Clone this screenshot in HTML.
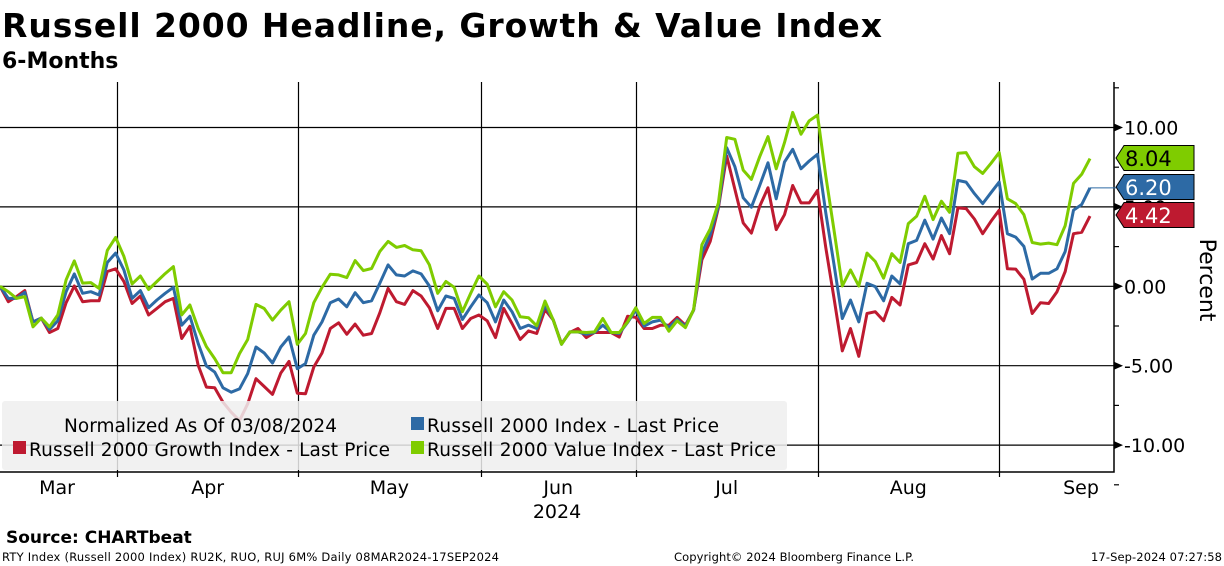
<!DOCTYPE html>
<html><head><meta charset="utf-8"><style>
html,body{margin:0;padding:0;background:#fff;}
svg{display:block;font-family:"DejaVu Sans","Liberation Sans",sans-serif;}
</style></head><body>
<svg id="chart" width="1224" height="566" viewBox="0 0 1224 566">
<text x="2" y="37" font-size="33" font-weight="bold" textLength="880">Russell 2000 Headline, Growth &amp; Value Index</text>
<text x="2" y="68" font-size="22" font-weight="bold">6-Months</text>
<g id="grid"></g>
<g id="series"></g>
<g id="legend">
<rect x="2" y="401" width="785" height="69" fill="#efefef" fill-opacity="0.85" rx="3"/>
<text x="64" y="432" font-size="18.5" textLength="273" fill="#000">Normalized As Of 03/08/2024</text>
<rect x="411" y="417" width="13" height="13" fill="#2d6aa5"/>
<text x="427" y="432" font-size="18.5" textLength="292">Russell 2000 Index - Last Price</text>
<rect x="13" y="441" width="13" height="13" fill="#be1a30"/>
<text x="29" y="456" font-size="18.5" textLength="361">Russell 2000 Growth Index - Last Price</text>
<rect x="411" y="441" width="13" height="13" fill="#7fcc00"/>
<text x="427" y="456" font-size="18.5" textLength="349">Russell 2000 Value Index - Last Price</text>
</g>
<g id="axes"></g>
<text transform="translate(1200,280) rotate(90)" text-anchor="middle" font-size="22">Percent</text>
<text x="6" y="543" font-size="17" font-weight="bold">Source: CHARTbeat</text>
<text x="2" y="561" font-size="11.5" textLength="497">RTY Index (Russell 2000 Index) RU2K, RUO, RUJ 6M%  Daily 08MAR2024-17SEP2024</text>
<text x="674" y="561" font-size="11.5" textLength="240">Copyright© 2024 Bloomberg Finance L.P.</text>
<text x="1091" y="561" font-size="11.5" textLength="131">17-Sep-2024 07:27:58</text>
</svg>
<script>
const valueSeries = [0,-0.34,-0.76,-0.65,-2.55,-2.0,-2.55,-1.8,0.4,1.6,0.2,0.23,-0.13,2.26,3.08,1.88,0.15,0.65,-0.2,0.3,0.8,1.24,-1.8,-1.18,-2.66,-3.8,-4.55,-5.44,-5.44,-4.24,-3.35,-1.14,-1.4,-2.13,-1.5,-0.97,-3.65,-2.97,-1.03,-0.06,0.76,0.72,0.55,1.62,0.99,1.12,2.19,2.83,2.45,
2.57,2.3,2.24,1.35,-0.44,0.3,-0.06,-1.6,-0.44,0.65,0.13,-1.29,-0.34,-0.86,-1.92,-1.98,-2.49,-0.93,-2.13,-3.65,-2.87,-2.87,-2.91,-2.87,-2.03,-2.91,-2.91,-2.24,-1.35,-2.34,-1.96,-1.96,-2.83,-2.17,-2.6,-1.46,2.62,3.61,5.25,9.37,9.26,7.32,6.73,8.16,9.43,7.4,
9.05,10.95,9.58,10.42,10.78,6.94,3.54,0.02,1.03,0.02,2.09,1.56,0.51,2.05,1.5,3.95,4.41,5.67,4.2,5.36,4.66,8.38,8.42,7.53,7.11,7.74,8.42,5.51,5.21,4.51,2.76,2.66,2.72,2.62,3.82,6.48,7.05,8.04];
const headlineSeries = [0,-0.76,-0.76,-0.38,-2.24,-2.0,-2.72,-2.17,-0.34,0.78,-0.44,-0.34,-0.55,1.5,2.09,1.03,-0.76,-0.27,-1.35,-0.86,-0.44,-0.06,-2.45,-1.88,-3.6,-5.02,-5.4,-6.39,-6.67,-6.46,-5.5,-3.82,-4.2,-4.83,-3.82,-3.19,-5.19,-4.87,-3.08,-2.24,-1.03,-0.8,-1.29,-0.4,-1.03,-0.91,0.19,1.35,0.72,
0.65,0.97,0.78,0.02,-1.54,-0.61,-0.76,-2.09,-1.29,-0.55,-1.03,-2.24,-0.86,-1.6,-2.66,-2.45,-2.66,-1.18,-2.13,-3.65,-2.87,-2.87,-3.02,-2.91,-2.45,-2.91,-2.97,-2.28,-1.5,-2.51,-2.24,-2.13,-2.6,-2.09,-2.51,-1.5,2.09,3.25,5.04,8.73,7.53,5.57,4.98,6.35,7.78,5.51,
7.83,8.63,7.4,7.89,8.31,4.62,1.37,-2.03,-0.86,-2.24,0.19,-0.02,-0.91,0.65,0.15,2.68,2.89,4.16,2.97,4.3,3.31,6.67,6.56,5.84,5.21,5.89,6.56,3.31,3.1,2.51,0.46,0.82,0.82,1.1,2.19,4.79,5.15,6.2];
const growthSeries = [0,-0.97,-0.65,-0.27,-2.24,-2.0,-2.91,-2.66,-1.03,0.02,-0.97,-0.91,-0.91,0.93,1.1,0.3,-1.08,-0.61,-1.81,-1.39,-0.97,-0.76,-3.29,-2.51,-4.98,-6.35,-6.39,-7.3,-7.93,-8.46,-7.4,-5.82,-6.31,-6.81,-5.46,-4.73,-6.73,-6.77,-5.08,-4.2,-2.66,-2.3,-3.02,-2.38,-3.08,-2.97,-1.67,-0.13,-0.97,
-1.14,-0.27,-0.61,-1.35,-2.66,-1.39,-1.39,-2.66,-2.03,-1.81,-2.17,-3.23,-1.39,-2.34,-3.35,-2.81,-2.97,-1.46,-2.13,-3.61,-2.91,-2.66,-3.23,-2.91,-2.91,-2.91,-3.19,-1.88,-1.96,-2.66,-2.66,-2.45,-2.45,-1.96,-2.45,-1.5,1.67,2.83,4.94,8.21,6.1,3.99,3.35,5.04,6.2,3.57,
4.51,6.35,5.25,5.25,6.03,2.43,-0.74,-4.07,-2.66,-4.41,-1.71,-1.6,-2.17,-0.7,-1.18,1.35,1.5,2.68,1.71,3.19,2.05,4.94,4.89,4.24,3.31,4.09,4.79,1.1,1.08,0.44,-1.71,-1.03,-1.08,-0.34,0.93,3.31,3.4,4.42];
const yTicks = [10,5,0,-5,-10];
const yTickLabels = ["10.00","5.00","0.00","-5.00","-10.00"];
const monthLabels = ["Mar","Apr","May","Jun","Jul","Aug","Sep"];
const monthStartIdx = [14.2,36.1,58.2,77,99,121];

const NS="http://www.w3.org/2000/svg";
const X0=0, XEND=1090, N=valueSeries.length, AX=1114, TOP=82, BOT=472;
function xs(i){return X0+i*(XEND-X0)/(N-1);}
function ys(v){return 286.3-v*15.88;}
function mk(tag,attrs,parent){const e=document.createElementNS(NS,tag);for(const k in attrs)e.setAttribute(k,attrs[k]);parent.appendChild(e);return e;}
const grid=document.getElementById('grid'), ser=document.getElementById('series'), axes=document.getElementById('axes');

yTicks.forEach((t,k)=>{
  const l=mk('line',{x1:0,x2:AX,y1:ys(t),y2:ys(t),stroke:'#000','stroke-width':1.2},grid);
  
  
  const a=mk('path',{d:`M${AX} ${ys(t)-4}L${AX+9} ${ys(t)}L${AX} ${ys(t)+4}Z`,fill:'#000'},axes);
  
  
  const tx=mk('text',{x:AX+10,y:ys(t)+7,'font-size':19},axes);
  tx.textContent=yTickLabels[k];
  
  
});
for(let v=12.5;v>=-12.5;v-=5){
  const m=mk('line',{x1:AX,x2:AX+5,y1:ys(v),y2:ys(v),stroke:'#000','stroke-width':1.2},axes);
  
  
}
monthStartIdx.forEach((mi,k)=>{
  const x=Math.round(xs(mi))+0.5;
  const l=mk('line',{x1:x,x2:x,y1:TOP,y2:BOT+5,stroke:'#000','stroke-width':1.2},grid);
  
  
});
const bounds=[0].concat(monthStartIdx.map(xs)).concat([AX]);
monthLabels.forEach((m,k)=>{
  let cx=(bounds[k]+bounds[k+1])/2;
  if(k===0)cx=57; if(k===6)cx=1081;
  const t=mk('text',{x:cx,y:494,'font-size':19,'text-anchor':'middle'},axes);
  t.textContent=m;
  
  
});
const yr=mk('text',{x:557,y:518,'font-size':19,'text-anchor':'middle'},axes);
yr.textContent='2024';


const ax1=mk('path',{d:`M0 ${BOT}H${AX}V${TOP}`,fill:'none',stroke:'#000','stroke-width':1.5},axes);



function line(data,color,name){
  const d=data.map((v,i)=>(i?'L':'M')+xs(i).toFixed(1)+' '+ys(v).toFixed(1)).join('');
  const p=mk('path',{d:d,fill:'none',stroke:color,'stroke-width':3,'stroke-linejoin':'round'},ser);
  
  
}
line(growthSeries,'#be1a30','line-growth');
line(headlineSeries,'#2d6aa5','line-headline');
line(valueSeries,'#7fcc00','line-value');

const tags=[[valueSeries,'#7fcc00','#000',158,'tag-value'],[headlineSeries,'#2d6aa5','#fff',187,'tag-headline'],[growthSeries,'#be1a30','#fff',215,'tag-growth']];
tags.forEach(([s,c,tc,cy,name])=>{
  const last=s[s.length-1];
  if(name==='tag-headline'){
    const cl=mk('line',{x1:xs(N-1),x2:AX+2,y1:ys(last),y2:ys(last),stroke:c,'stroke-width':1},axes);
    
    
  }
  const g=mk('g',{},axes);
  
  
  mk('path',{d:`M${AX+2} ${cy}L${AX+10} ${cy-12.5}H${AX+80}V${cy+12.5}H${AX+10}Z`,fill:c,stroke:'#000','stroke-width':1},g);
  const t=mk('text',{x:AX+11,y:cy+8,'font-size':21,fill:tc},g);
  t.textContent=last.toFixed(2);
});
</script>
</body></html>
